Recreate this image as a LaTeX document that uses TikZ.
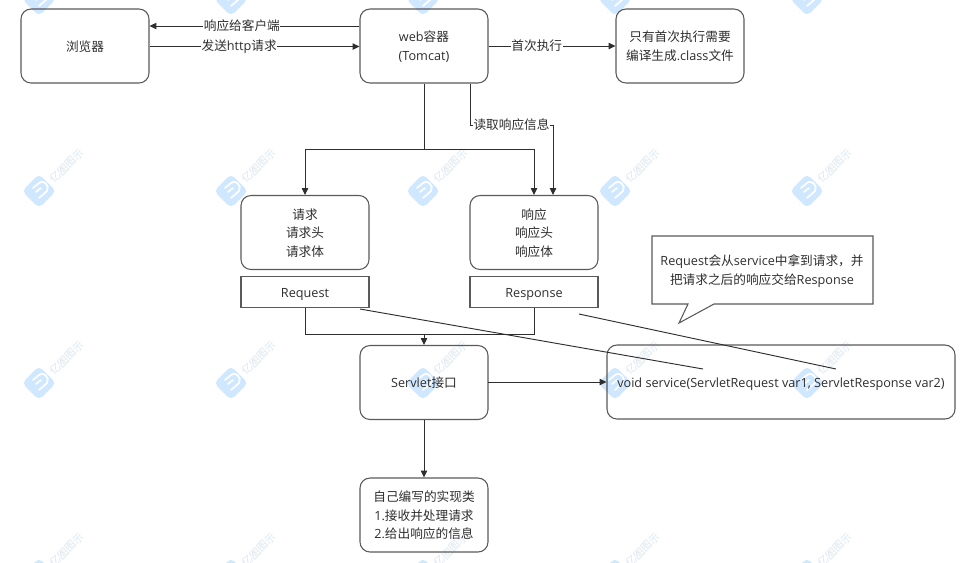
\documentclass[tikz,border=0pt]{standalone}
\usepackage{fontspec}
\setmainfont{Open Sans}
\newfontfamily\cjk{Noto Sans CJK SC}
\newcommand{\zh}[1]{{\cjk #1}}
\newcommand{\bt}[1]{\raisebox{-1.1pt}[\height][\depth]{\begin{tabular}{@{}c@{}}#1\end{tabular}}}
\usetikzlibrary{arrows.meta,calc}
\definecolor{ink}{HTML}{2E2E2E}
\definecolor{edge}{HTML}{5A5A5A}
\definecolor{wm}{HTML}{CFE7FF}
\definecolor{wmt}{HTML}{DDE7F0}
\tikzset{
  basebox/.style={draw=edge,line width=0.8pt,fill=none,inner sep=0pt,
    text=ink,font=\fontsize{9.5}{14}\selectfont,minimum width=96pt},
  box/.style={basebox,rounded corners=7.5pt,minimum height=55.5pt},
  plain/.style={basebox,sharp corners,minimum height=23.25pt},
  conn/.style={draw=ink,line width=0.75pt,-{Triangle[length=5.2pt,width=4.8pt]}},
  seg/.style={draw=ink,line width=0.75pt},
  lab/.style={fill=white,inner sep=0.4pt,text=ink,font=\fontsize{9.5}{11}\selectfont},
  wmlogo/.style={fill=wm,rounded corners=3.5pt,draw=none},
  wmtext/.style={text=wmt,rotate=45,font=\cjk\fontsize{8}{9}\selectfont,inner sep=0pt}
}
\newcommand{\wmark}[2]{%
  \fill[wmlogo] (#1-17,#2) -- (#1,#2-17) -- (#1+17,#2) -- (#1,#2+17) -- cycle;
  \draw[white,line width=1.3pt,line cap=round] (#1-6,#2-3) -- (#1,#2-8) .. controls (#1+5,#2-12) and (#1+11,#2-5) .. (#1+8,#2) -- (#1,#2+7);
  \draw[white,line width=1.3pt,line cap=round] (#1-3,#2+1) -- (#1+2,#2-3);
  \node[wmtext] at (#1+28,#2-25) {亿图图示};
}
\begin{document}
\begin{tikzpicture}[x=0.75pt,y=-0.75pt]
\useasboundingbox (0,0) rectangle (964,562);
\fill[white] (0,0) rectangle (964,562);
% watermark
\begin{scope}
\clip (0,0) rectangle (964,562);
\foreach \yy in {-1,191,383,575}{
  \foreach \xx in {39,231,423,615,807}{
    \wmark{\xx}{\yy}
  }
}
\end{scope}
% nodes
\node[box] (browser) at (85,46) {\bt{\zh{浏览器}}};
\node[box] (web) at (424,46) {\bt{web\zh{容器}\\(Tomcat)}};
\node[box] (once) at (680,46) {\bt{\zh{只有首次执行需要}\\\zh{编译生成}.class\zh{文件}}};
\node[box] (req) at (305,232.5) {\bt{\zh{请求}\\\zh{请求头}\\\zh{请求体}}};
\node[box] (resp) at (534,232.5) {\bt{\zh{响应}\\\zh{响应头}\\\zh{响应体}}};
\node[plain] (reqc) at (305,292) {\bt{Request}};
\node[plain] (respc) at (534,292) {\bt{Response}};
\node[box] (servlet) at (424,382.5) {\bt{Servlet\zh{接口}}};
\node[box] (impl) at (424,515) {\bt{\zh{自己编写的实现类}\\1.\zh{接收并处理请求}\\2.\zh{给出响应的信息}}};
\node[box,minimum width=261pt] (svc) at (781,382) {\bt{void service(ServletRequest var1, ServletResponse var2)}};
% callout
\draw[edge,line width=0.8pt] (652,236) -- (873,236) -- (873,304) -- (714,304) -- (679,323) -- (688,304) -- (652,304) -- cycle;
\node[text=ink,font=\fontsize{9.5}{14}\selectfont,inner sep=0pt] (note) at (762,271.5) {\begin{tabular}{@{}c@{}}Request\zh{会从}service\zh{中拿到请求，并}\\\zh{把请求之后的响应交给}Response\end{tabular}};
% junctions and free ends
\coordinate (j1) at (424,149);
\coordinate (j2) at (424,334);
\coordinate (a1) at (360,309);
\coordinate (a2) at (703,369);
\coordinate (b1) at (579,314);
\coordinate (b2) at (836,369);
% connectors
\draw[conn] ([yshift=15pt]web.west) -- node[lab,pos=0.56]{\zh{响应给客户端}} ([yshift=15pt]browser.east);
\draw[conn] ([yshift=-0.4pt]browser.east) -- node[lab,pos=0.427]{\zh{发送}http\zh{请求}} ([yshift=-0.4pt]web.west);
\draw[conn] (web.east) -- node[lab,pos=0.38]{\zh{首次执行}} (once.west);
\draw[seg] (web.south) -- (j1);
\draw[conn] (j1) -| (req.north);
\draw[conn] (j1) -| (resp.north);
\draw[conn] ([xshift=34.5pt]web.south) |- node[lab,pos=0.75]{\zh{读取响应信息}} (553,125) -- ([xshift=14.25pt]resp.north);
\draw[seg] (reqc.south) |- (j2);
\draw[seg] (respc.south) |- (j2);
\draw[conn] (j2) -- (servlet.north);
\draw[conn] (servlet.east) -- (svc.west -| servlet.east) -- (svc.west);
\draw[conn] (servlet.south) -- (impl.north);
\draw[seg,line width=0.7pt] (a1) -- (a2);
\draw[seg,line width=0.7pt] (b1) -- (b2);
\end{tikzpicture}
\end{document}
